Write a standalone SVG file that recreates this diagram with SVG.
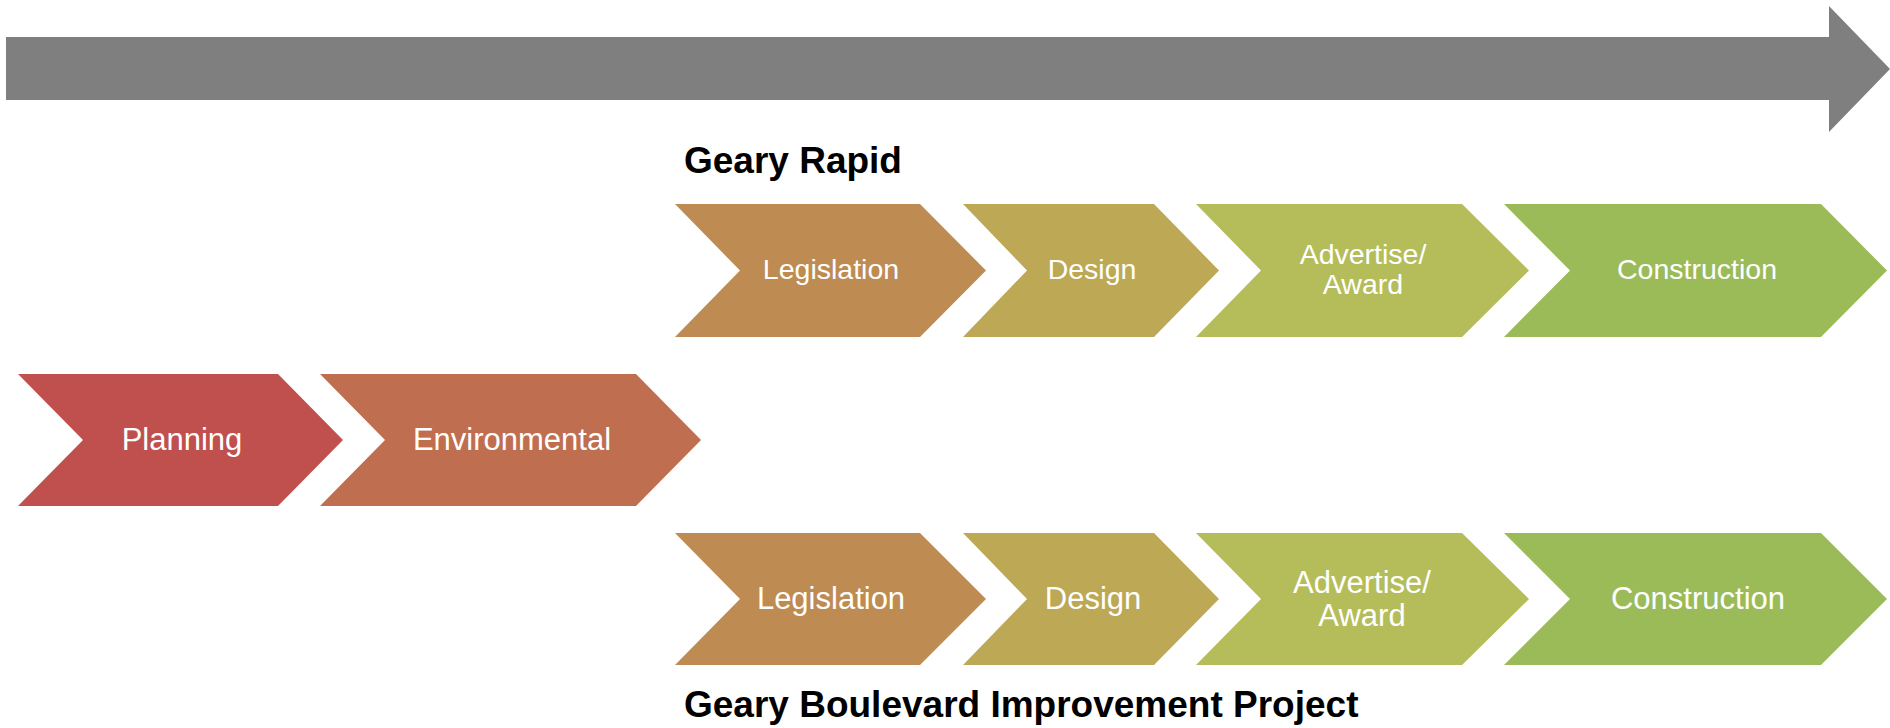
<svg xmlns="http://www.w3.org/2000/svg" width="1890" height="728" viewBox="0 0 1890 728">
<style>
.lbl{font-family:"Liberation Sans",Arial,sans-serif;fill:#ffffff;text-anchor:middle}
.r1{font-size:28.5px}
.r2{font-size:31px}
.hd{font-family:"Liberation Sans",Arial,sans-serif;font-weight:bold;font-size:37px;fill:#000000}
.planning{fill:#C0504D}
.env{fill:#C06E50}
.leg{fill:#BE8B52}
.des{fill:#BCA855}
.adv{fill:#B5BD5A}
.con{fill:#9BBB59}
</style>
<rect width="1890" height="728" fill="#ffffff"/>
<g id="timeline">
<polygon points="6,37 1829,37 1829,6 1890,69 1829,132 1829,100 6,100" fill="#7F7F7F"/>
</g>
<g id="heading-rapid"><text class="hd" x="684" y="173">Geary Rapid</text></g>
<g id="heading-gbip"><text class="hd" x="684" y="717">Geary Boulevard Improvement Project</text></g>
<g id="planning">
<polygon class="planning" points="18,374 278,374 343,440 278,506 18,506 83,440"/>
<text class="lbl r2" x="182" y="450">Planning</text>
</g>
<g id="environmental">
<polygon class="env" points="320,374 636,374 701,440 636,506 320,506 385,440"/>
<text class="lbl r2" x="512" y="450">Environmental</text>
</g>
<g id="rapid-legislation">
<polygon class="leg" points="675,204 920,204 986,270.5 920,337 675,337 740,270.5"/>
<text class="lbl r1" x="831" y="279">Legislation</text>
</g>
<g id="rapid-design">
<polygon class="des" points="963,204 1154,204 1219,270.5 1154,337 963,337 1027,270.5"/>
<text class="lbl r1" x="1092" y="279">Design</text>
</g>
<g id="rapid-advertise">
<polygon class="adv" points="1196,204 1462,204 1529,270.5 1462,337 1196,337 1261,270.5"/>
<text class="lbl r1" x="1363" y="264">Advertise/</text>
<text class="lbl r1" x="1363" y="294">Award</text>
</g>
<g id="rapid-construction">
<polygon class="con" points="1504,204 1821,204 1887,270.5 1821,337 1504,337 1570,270.5"/>
<text class="lbl r1" x="1697" y="279">Construction</text>
</g>
<g id="gbip-legislation">
<polygon class="leg" points="675,533 920,533 986,599 920,665 675,665 740,599"/>
<text class="lbl r2" x="831" y="609">Legislation</text>
</g>
<g id="gbip-design">
<polygon class="des" points="963,533 1154,533 1219,599 1154,665 963,665 1027,599"/>
<text class="lbl r2" x="1093" y="609">Design</text>
</g>
<g id="gbip-advertise">
<polygon class="adv" points="1196,533 1462,533 1529,599 1462,665 1196,665 1261,599"/>
<text class="lbl r2" x="1362" y="593">Advertise/</text>
<text class="lbl r2" x="1362" y="626">Award</text>
</g>
<g id="gbip-construction">
<polygon class="con" points="1504,533 1821,533 1887,599 1821,665 1504,665 1570,599"/>
<text class="lbl r2" x="1698" y="609">Construction</text>
</g>
<g id="connectors"></g>
</svg>
